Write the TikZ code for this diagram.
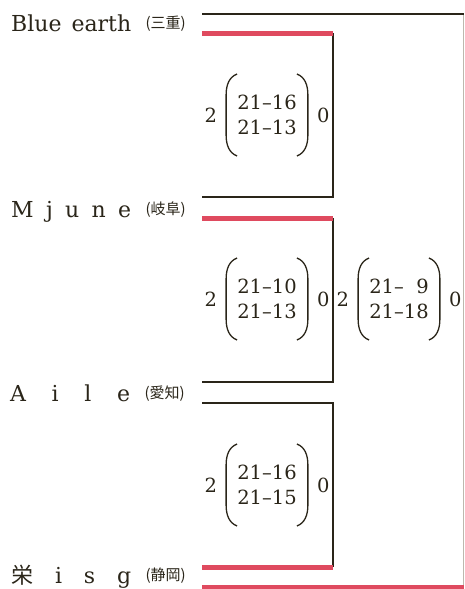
\documentclass[tikz,border=0pt]{standalone}
\usepackage{fontspec}
\usepackage{tikz}
\usetikzlibrary{positioning}
\setmainfont{DejaVu Serif}
\newfontfamily\jpfont{Noto Sans CJK JP}
\definecolor{inkbrown}{HTML}{2A2519}
\definecolor{winred}{HTML}{DF4A5F}
\definecolor{edgegray}{HTML}{BDB8AE}
\newcommand{\teamname}[1]{\makebox[120pt][s]{#1}}
% curved brackets round a result node
\newcommand{\matchparens}[1]{%
  \draw[paren] ([shift={(0pt,41pt)}]#1.west) .. controls ([shift={(-8pt,38pt)}]#1.west) and ([shift={(-11pt,30pt)}]#1.west) .. ([shift={(-11pt,20pt)}]#1.west)
    -- ([shift={(-11pt,-20pt)}]#1.west) .. controls ([shift={(-11pt,-30pt)}]#1.west) and ([shift={(-8pt,-38pt)}]#1.west) .. ([shift={(0pt,-41pt)}]#1.west);
  \draw[paren] ([shift={(0pt,41pt)}]#1.east) .. controls ([shift={(8pt,38pt)}]#1.east) and ([shift={(11pt,30pt)}]#1.east) .. ([shift={(11pt,20pt)}]#1.east)
    -- ([shift={(11pt,-20pt)}]#1.east) .. controls ([shift={(11pt,-30pt)}]#1.east) and ([shift={(8pt,-38pt)}]#1.east) .. ([shift={(0pt,-41pt)}]#1.east);}

\begin{document}
\begin{tikzpicture}[
  x=1pt, y=-1pt,
  node distance=20pt,
  team/.style={inner sep=0pt, anchor=base west, font=\fontsize{22}{26}\selectfont, text=inkbrown},
  pref/.style={inner sep=0pt, anchor=base west, font=\jpfont\fontsize{15}{17}\selectfont, text=inkbrown},
  result/.style={inner sep=0pt, align=center, font=\fontsize{19.5}{25}\selectfont, text=inkbrown},
  games/.style={inner sep=0pt, font=\fontsize{19.5}{25}\selectfont, text=inkbrown},
  paren/.style={draw=inkbrown, line width=1.3pt},
  bracketline/.style={draw=inkbrown, line width=1.8pt},
  winner/.style={draw=winred, line width=5pt},
  frameedge/.style={draw=edgegray, line width=0.8pt}
]
\useasboundingbox (0,0) rectangle (464,589);

% teams
\node[team] (blue) at (11,31) {\teamname{Blue earth}};
\node[pref, right=14pt of blue.base east, anchor=base west, yshift=3pt] (bluepref) {(三重)};
\node[team] (mjune) at (11,217) {\teamname{M j u n e}};
\node[pref, right=14pt of mjune.base east, anchor=base west, yshift=3pt] (mjunepref) {(岐阜)};
\node[team] (aile) at (10,401) {\teamname{A i l e}};
\node[pref, right=14pt of aile.base east, anchor=base west, yshift=3pt] (ailepref) {(愛知)};
\node[team] (isg) at (11,583) {\teamname{{\jpfont 栄} i s g}};
\node[pref, right=14pt of isg.base east, anchor=base west, yshift=3pt] (isgpref) {(静岡)};

% results
\node[result] (m1) at (267,115) {21--16\\21--13};
\node[games, left=of m1] (m1w) {2};
\node[games, right=of m1] (m1l) {0};
\node[result] (m2) at (267,299) {21--10\\21--13};
\node[games, left=of m2] (m2w) {2};
\node[games, right=of m2] (m2l) {0};
\node[result] (m3) at (267,485) {21--16\\21--15};
\node[games, left=of m3] (m3w) {2};
\node[games, right=of m3] (m3l) {0};
\node[result] (s1) at (399,299) {21--\phantom{1}9\\21--18};
\node[games, left=of s1] (s1w) {2};
\node[games, right=of s1] (s1l) {0};
\matchparens{m1}
\matchparens{m2}
\matchparens{m3}
\matchparens{s1}

% bracket
\coordinate (t1a) at (202,14);  \coordinate (t1b) at (202,33);
\coordinate (t2a) at (202,197); \coordinate (t2b) at (202,218);
\coordinate (t3a) at (202,382); \coordinate (t3b) at (202,403);
\coordinate (t4a) at (202,567); \coordinate (t4b) at (202,587);
\coordinate (rj) at (333,0);
\coordinate (rim) at (463.5,0);

\draw[frameedge] (t1a -| rim) -- (t4b -| rim);
\draw[bracketline] (t1a) -- (t1a -| rim);
\draw[bracketline] (t1b -| rj) -- (t2a -| rj) -- (t2a);
\draw[bracketline] (t2b -| rj) -- (t3a -| rj) -- (t3a);
\draw[bracketline] (t3b) -- (t3b -| rj) -- (t4a -| rj);
\draw[winner] (t1b) -- (t1b -| rj);
\draw[winner] (t2b) -- (t2b -| rj);
\draw[winner] (t4a) -- (t4a -| rj);
\draw[winner] (t4b) -- (t4b -| rim);
\end{tikzpicture}
\end{document}
